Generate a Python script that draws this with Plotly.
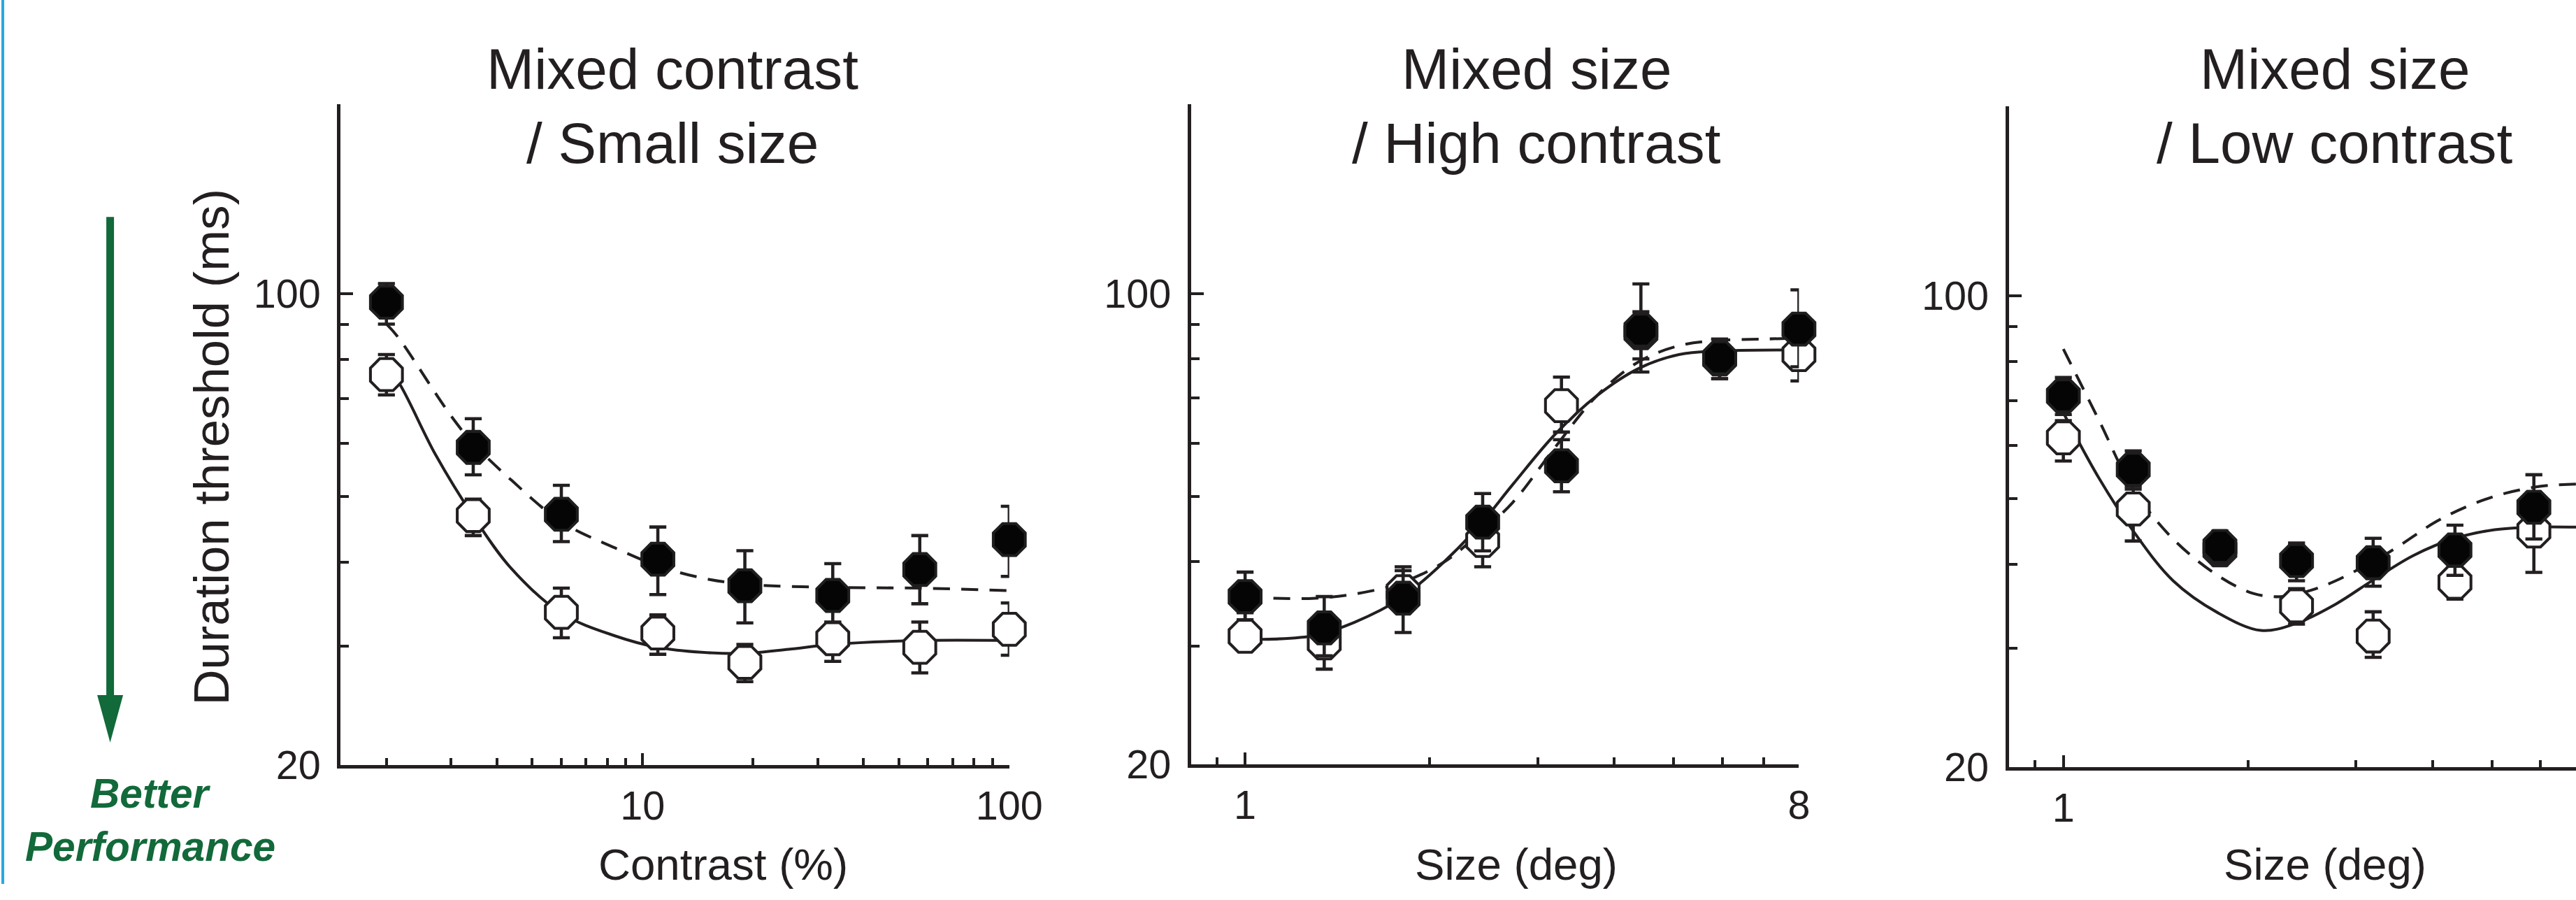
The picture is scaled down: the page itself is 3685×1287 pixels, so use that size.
import math
import subprocess
import plotly.graph_objects as go

# Reference canvas and measured render scaling (page is photographed slightly shrunk)
W, H = 3685, 1287
SX, SY = 0.98665, 0.9934
FIG_W, FIG_H = round(W / SX), round(H / SY)
K = 2.0 / (SX + SY)          # pixel-size compensation

INK = "#231f20"
GREEN = "#12693a"

# ---------------- data ----------------
# Panel 1: Mixed contrast / Small size
p1_x = [2.0, 3.45, 6.0, 11.0, 19.0, 33.0, 57.0, 100.0]
p1_filled = [97.2, 59.2, 47.1, 40.4, 36.9, 35.7, 39.0, 43.2]
p1_filled_hi = [103.6, 65.3, 52.0, 45.1, 41.6, 39.8, 43.8, 48.4]
p1_filled_lo = [90.2, 53.9, 42.9, 35.8, 32.5, 32.6, 34.7, 38.1]
p1_open = [75.9, 46.9, 33.7, 31.4, 28.4, 30.8, 29.9, 31.8]
p1_open_hi = [81.3, 49.6, 36.6, 33.4, 30.2, 32.5, 32.6, 34.8]
p1_open_lo = [70.8, 43.8, 30.9, 29.2, 26.6, 28.5, 27.4, 29.1]
p1_fit_solid_x = [2.0, 2.15, 2.72, 3.45, 4.39, 6.0, 8.4, 11.0, 14.5, 19.0, 25.0, 33.0, 57.0, 100.0]
p1_fit_solid_y = [77.6, 74.2, 57.8, 46.8, 39.1, 33.6, 31.1, 29.9, 29.4, 29.3, 29.7, 30.2, 30.6, 30.6]
p1_fit_dash_x = [2.0, 2.15, 2.99, 3.45, 4.39, 6.0, 8.4, 11.0, 14.5, 19.0, 33.0, 57.0, 100.0]
p1_fit_dash_y = [90.2, 86.3, 66.1, 60.0, 52.9, 45.9, 42.0, 39.5, 37.9, 37.1, 36.7, 36.6, 36.3]

# Panel 2: Mixed size / High contrast
p2_x = [1.0, 1.346, 1.81, 2.44, 3.28, 4.42, 5.94, 8.0]
p2_filled = [35.5, 31.9, 35.3, 45.8, 55.5, 88.3, 80.3, 88.6]
p2_filled_hi = [38.6, 35.5, 39.3, 50.5, 60.7, 103.4, 85.6, 101.3]
p2_filled_lo = [32.8, 29.0, 31.4, 41.5, 50.8, 80.0, 74.8, 77.9]
p2_open = [31.0, 30.3, 36.1, 43.0, 68.2, 87.5, 80.0, 81.2]
p2_open_hi = [33.6, 31.9, 38.8, 46.8, 75.2, 94.0, 85.6, 90.6]
p2_open_lo = [29.5, 27.7, 33.7, 39.3, 62.3, 76.5, 74.8, 74.2]
p2_fit_solid_x = [1.0, 1.118, 1.302, 1.506, 1.787, 2.106, 2.407, 2.733, 3.201, 3.75, 4.39, 5.10, 5.89, 8.0]
p2_fit_solid_y = [30.7, 30.7, 31.1, 32.5, 35.2, 39.9, 45.2, 52.1, 61.8, 70.6, 77.5, 81.2, 82.2, 82.5]
p2_fit_dash_x = [1.0, 1.118, 1.302, 1.506, 1.787, 2.106, 2.407, 2.733, 3.201, 3.75, 4.39, 5.10, 5.89, 6.93, 8.0]
p2_fit_dash_y = [35.5, 35.3, 35.3, 35.8, 37.15, 39.9, 44.0, 49.0, 59.1, 70.6, 79.3, 83.7, 85.2, 85.6, 85.9]

# Panel 3: Mixed size / Low contrast (cut off at the right edge)
p3_x = [1.0, 1.30, 1.80, 2.40, 3.20, 4.35, 5.85]
p3_filled = [71.1, 55.3, 42.5, 40.5, 40.2, 42.0, 48.6]
p3_filled_hi = [75.7, 58.9, 44.8, 43.0, 43.7, 45.7, 54.3]
p3_filled_lo = [66.7, 52.2, 39.9, 37.8, 37.1, 38.5, 43.6]
p3_open = [61.6, 48.3, 42.0, 34.7, 31.3, 37.6, 44.8]
p3_open_hi = [65.3, 51.7, 43.5, 36.8, 34.0, 39.8, 47.0]
p3_open_lo = [56.9, 43.3, 40.5, 32.6, 29.1, 35.5, 38.9]
p3_fit_solid_x = [1.0, 1.144, 1.30, 1.51, 1.785, 2.10, 2.40, 2.78, 3.20, 3.72, 4.35, 5.05, 5.85, 6.89]
p3_fit_solid_y = [67.1, 53.6, 44.8, 37.8, 33.9, 31.9, 32.7, 34.9, 37.9, 41.2, 43.7, 45.0, 45.4, 45.4]
p3_fit_dash_x = [1.0, 1.144, 1.30, 1.51, 1.785, 2.04, 2.26, 2.51, 2.78, 3.40, 4.06, 4.62, 5.27, 6.01, 6.89]
p3_fit_dash_y = [83.4, 65.3, 51.7, 43.6, 38.5, 36.2, 35.8, 36.5, 37.8, 41.7, 46.3, 49.0, 51.0, 52.2, 52.6]

titles = [["Mixed contrast", "/ Small size"], ["Mixed size", "/ High contrast"], ["Mixed size", "/ Low contrast"]]
x_titles = ["Contrast (%)", "Size (deg)", "Size (deg)"]
y_title = "Duration threshold (ms)"
arrow_text = ["Better", "Performance"]

y_major = [20, 100]
y_major_text = ["20", "100"]
y_minor = [30, 40, 50, 60, 70, 80, 90]
x1_major = [10, 100]
x1_major_text = ["10", "100"]
x1_minor = [2, 3, 4, 5, 6, 7, 8, 9, 20, 30, 40, 50, 60, 70, 80, 90]
x23_major = [1, 8]
x23_major_text = ["1", "8"]
x23_minor = [0.9, 2, 3, 4, 5, 6, 7]

# ---------------- fonts ----------------
try:
    fl = subprocess.run(["fc-list"], capture_output=True, text=True).stdout
except Exception:
    fl = ""
HAS_NARROW = "Liberation Sans Narrow" in fl
if HAS_NARROW:
    TFONT = "Liberation Sans Narrow"
    TSIZE, XSIZE = 92, 70
else:
    TFONT = "Liberation Sans"
    TSIZE, XSIZE = 81, 63
RFONT = "Liberation Sans"


def fx(px):
    return px / W


def fy(py):
    return 1 - py / H


def k(v):
    return v * K


fig = go.Figure()

panels = [
    dict(x=p1_x, f=p1_filled, fh=p1_filled_hi, fl=p1_filled_lo, o=p1_open, oh=p1_open_hi, ol=p1_open_lo,
         sx=p1_fit_solid_x, sy=p1_fit_solid_y, dx=p1_fit_dash_x, dy=p1_fit_dash_y),
    dict(x=p2_x, f=p2_filled, fh=p2_filled_hi, fl=p2_filled_lo, o=p2_open, oh=p2_open_hi, ol=p2_open_lo,
         sx=p2_fit_solid_x, sy=p2_fit_solid_y, dx=p2_fit_dash_x, dy=p2_fit_dash_y),
    dict(x=p3_x, f=p3_filled, fh=p3_filled_hi, fl=p3_filled_lo, o=p3_open, oh=p3_open_hi, ol=p3_open_lo,
         sx=p3_fit_solid_x, sy=p3_fit_solid_y, dx=p3_fit_dash_x, dy=p3_fit_dash_y),
]

dash = f"{k(24):.1f}px,{k(16):.1f}px"
for i, p in enumerate(panels, start=1):
    xa = "x" if i == 1 else f"x{i}"
    ya = "y" if i == 1 else f"y{i}"
    fig.add_trace(go.Scatter(x=p["sx"], y=p["sy"], mode="lines", xaxis=xa, yaxis=ya,
                             line=dict(color=INK, width=k(4), shape="spline", smoothing=1.0),
                             hoverinfo="skip"))
    fig.add_trace(go.Scatter(x=p["dx"], y=p["dy"], mode="lines", xaxis=xa, yaxis=ya,
                             line=dict(color=INK, width=k(4), shape="spline", smoothing=1.0, dash=dash),
                             hoverinfo="skip"))
    fig.add_trace(go.Scatter(
        x=p["x"], y=p["o"], mode="markers", xaxis=xa, yaxis=ya, cliponaxis=False,
        marker=dict(symbol="octagon", size=k(49), color="white", line=dict(color=INK, width=k(4))),
        error_y=dict(type="data", symmetric=False,
                     array=[h - v for h, v in zip(p["oh"], p["o"])],
                     arrayminus=[v - l for v, l in zip(p["o"], p["ol"])],
                     color=INK, thickness=k(4.5), width=k(12))))
    fig.add_trace(go.Scatter(
        x=p["x"], y=p["f"], mode="markers", xaxis=xa, yaxis=ya, cliponaxis=False,
        marker=dict(symbol="octagon", size=k(49), color="#050505", line=dict(color="#1e1e1e", width=k(4))),
        error_y=dict(type="data", symmetric=False,
                     array=[h - v for h, v in zip(p["fh"], p["f"])],
                     arrayminus=[v - l for v, l in zip(p["f"], p["fl"])],
                     color=INK, thickness=k(4.5), width=k(12))))

# ---------------- axes (positions in reference pixels) ----------------
dom_x = [(487, 1443), (1703, 2572), (2872, 3685)]
dom_y = [(152, 1114), (152, 1113), (155, 1117)]
ylog0 = math.log10(20)
yrange = [ylog0, ylog0 + 962 / 981.6]
dec23 = 876.9
xranges = [
    [math.log10(1.5), 2.0],
    [-0.088, math.log10(8)],
    [-0.089, -0.089 + (dom_x[2][1] - dom_x[2][0]) / dec23],
]
xmajors = [(x1_major, x1_major_text, x1_minor), (x23_major, x23_major_text, x23_minor),
           (x23_major, x23_major_text, x23_minor)]

common = dict(showline=True, linewidth=k(5), linecolor=INK, showgrid=False, zeroline=False,
              ticks="inside", tickwidth=k(4), tickcolor=INK,
              tickfont=dict(family=RFONT, size=k(57), color=INK), type="log")

layout_axes = {}
for i in range(1, 4):
    sx = "" if i == 1 else str(i)
    mj, mjt, mn = xmajors[i - 1]
    layout_axes[f"xaxis{sx}"] = dict(
        common, domain=[fx(dom_x[i - 1][0]), fx(dom_x[i - 1][1])], range=xranges[i - 1],
        anchor=f"y{sx}", tickmode="array", tickvals=mj, ticktext=mjt, ticklen=k(17),
        ticklabelstandoff=4,
        minor=dict(tickmode="array", tickvals=mn, ticks="inside", ticklen=k(10), tickwidth=k(4),
                   tickcolor=INK, showgrid=False))
    layout_axes[f"yaxis{sx}"] = dict(
        common, domain=[fy(dom_y[i - 1][1]), fy(dom_y[i - 1][0])], range=yrange,
        anchor=f"x{sx}", tickmode="array", tickvals=y_major, ticktext=y_major_text, ticklen=k(18),
        ticklabelstandoff=12,
        minor=dict(tickmode="array", tickvals=y_minor, ticks="inside", ticklen=k(12), tickwidth=k(4),
                   tickcolor=INK, showgrid=False))

# ---------------- text ----------------
ann = []
title_cx = [961, 2197, 3338]
for (l1, l2), cx in zip(titles, title_cx):
    for txt, base in ((l1, 125), (l2, 233)):
        ann.append(dict(text=txt, x=fx(cx), y=fy(base - 0.905 * TSIZE), xref="paper", yref="paper",
                        xanchor="center", yanchor="top", showarrow=False,
                        font=dict(family=TFONT, size=k(TSIZE), color=INK)))
for txt, cx in zip(x_titles, [1034, 2168, 3324]):
    ann.append(dict(text=txt, x=fx(cx), y=fy(1277 - 0.905 * XSIZE), xref="paper", yref="paper",
                    xanchor="center", yanchor="top", showarrow=False,
                    font=dict(family=TFONT, size=k(XSIZE), color=INK)))
ann.append(dict(text=y_title, x=fx(302), y=fy(651), xref="paper", yref="paper", textangle=-90,
                xanchor="center", yanchor="middle", showarrow=False,
                font=dict(family=RFONT, size=k(70), color=INK)))
for txt, base in zip(arrow_text, (1172, 1250)):
    ann.append(dict(text=f"<b><i>{txt}</i></b>", x=fx(215), y=fy(base - 0.905 * 58), xref="paper",
                    yref="paper", xanchor="center", yanchor="top", showarrow=False,
                    font=dict(family=RFONT, size=k(58), color=GREEN)))

# ---------------- decorations ----------------
shapes = [
    dict(type="line", xref="paper", yref="paper", x0=fx(4), x1=fx(4), y0=0, y1=1,
         line=dict(color="#2aa8e0", width=k(4))),
    dict(type="rect", xref="paper", yref="paper", x0=fx(152), x1=fx(163), y0=fy(1018), y1=fy(316),
         fillcolor=GREEN, line=dict(width=0)),
    dict(type="path", xref="paper", yref="paper",
         path=f"M {fx(139)} {fy(1012)} L {fx(176)} {fy(1012)} L {fx(157.5)} {fy(1081)} Z",
         fillcolor=GREEN, line=dict(width=0)),
]

fig.update_layout(
    width=FIG_W, height=FIG_H, margin=dict(l=0, r=0, t=0, b=0, pad=0),
    paper_bgcolor="white", plot_bgcolor="white", showlegend=False,
    annotations=ann, shapes=shapes, **layout_axes)

fig.write_html("out.html", config={"displayModeBar": False})
